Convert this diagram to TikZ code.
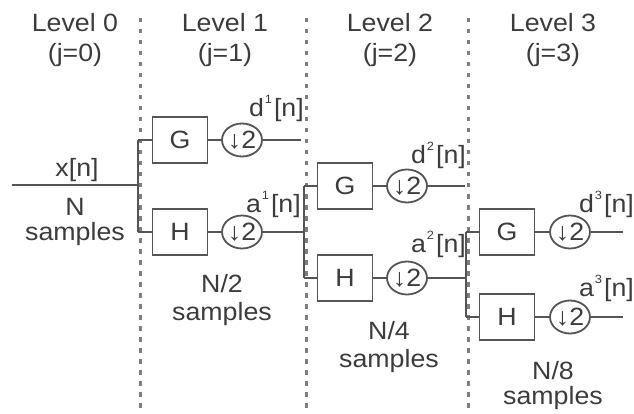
\documentclass[tikz,border=0pt]{standalone}
\usepackage{fontspec}
\setmainfont{Liberation Sans}[FakeStretch=1.07]
\usetikzlibrary{shapes.geometric}
\definecolor{ln}{HTML}{555555}
\definecolor{tx}{HTML}{3C3C3C}
\definecolor{dl}{HTML}{7E7E7E}
\newcommand{\fsz}{\fontsize{25}{27}\selectfont}
\newcommand{\hisup}[1]{\kern1pt\raisebox{13pt}{\fontsize{12}{12}\selectfont #1}\kern2pt}
\tikzset{
  filt/.style={draw=ln, line width=1.8pt, minimum width=55pt, minimum height=46pt, inner sep=0pt, text=tx, font=\fsz},
  dsamp/.style={draw=ln, ellipse, line width=1.8pt, minimum width=39pt, minimum height=33pt, inner sep=0pt, text=tx, font=\fsz},
  wire/.style={draw=ln, line width=1.8pt},
  sepline/.style={draw=dl, line width=3pt, dash pattern=on 4.5pt off 6.5pt},
  lbl/.style={text=tx, font=\fsz, inner sep=0pt, anchor=base},
  lblr/.style={text=tx, font=\fsz, inner sep=0pt, anchor=base east},
}
\begin{document}
\begin{tikzpicture}[x=1pt,y=-1pt]
\useasboundingbox (0,0) rectangle (634,414);
% separators
\coordinate (s1t) at (140,18); \coordinate (s1b) at (140,414);
\coordinate (s2t) at (306,18); \coordinate (s2b) at (306,414);
\coordinate (s3t) at (468,18); \coordinate (s3b) at (468,414);
\draw[sepline] (s1t) -- (s1b);
\draw[sepline] (s2t) -- (s2b);
\draw[sepline] (s3t) -- (s3b);
% headings
\node[lbl] (L0) at (75,32) {Level 0};
\node[lbl] (J0) at (75,62) {(j=0)};
\node[lbl] (L1) at (225,32) {Level 1};
\node[lbl] (J1) at (225,62) {(j=1)};
\node[lbl] (L2) at (390,32) {Level 2};
\node[lbl] (J2) at (390,62) {(j=2)};
\node[lbl] (L3) at (553,32) {Level 3};
\node[lbl] (J3) at (553,62) {(j=3)};
% level 0
\coordinate (xin) at (12,185);
\coordinate (j1) at (138,185);
\node[lbl] (xl) at (77,177) {x[n]};
\node[lbl] (n0) at (75,215) {N};
\node[lbl] (s0) at (75,240) {samples};
% level 1
\coordinate (j1t) at (138,140); \coordinate (j1b) at (138,232);
\node[filt] (G1) at (180,140) {G};
\node[filt] (H1) at (180,232) {H};
\node[dsamp] (D1g) at (242,140) {↓2};
\node[dsamp] (D1h) at (242,232) {↓2};
\coordinate (e1) at (301,140);
\coordinate (j2) at (304,232);
\node[lblr] (d1) at (304,117) {d\hisup{1}[n]};
\node[lblr] (a1) at (301,212) {a\hisup{1}[n]};
\node[lbl] (n1) at (222,292) {N/2};
\node[lbl] (s1) at (222,320) {samples};
% level 2
\coordinate (j2t) at (304,186); \coordinate (j2b) at (304,278);
\node[filt] (G2) at (345,186) {G};
\node[filt] (H2) at (345,278) {H};
\node[dsamp] (D2g) at (407,186) {↓2};
\node[dsamp] (D2h) at (407,278) {↓2};
\coordinate (e2) at (465,186);
\coordinate (j3) at (466,278);
\node[lblr] (d2) at (466,164) {d\hisup{2}[n]};
\node[lblr] (a2) at (466,252) {a\hisup{2}[n]};
\node[lbl] (n2) at (389,339) {N/4};
\node[lbl] (s2) at (389,367) {samples};
% level 3
\coordinate (j3t) at (466,232); \coordinate (j3b) at (466,317);
\node[filt] (G3) at (507,232) {G};
\node[filt] (H3) at (507,317) {H};
\node[dsamp] (D3g) at (570,232) {↓2};
\node[dsamp] (D3h) at (570,317) {↓2};
\coordinate (e3g) at (623,232);
\coordinate (e3h) at (623,317);
\node[lblr] (d3) at (634,212) {d\hisup{3}[n]};
\node[lblr] (a3) at (634,296) {a\hisup{3}[n]};
\node[lbl] (n3) at (553,379) {N/8};
\node[lbl] (s3) at (553,404) {samples};
% wires
\draw[wire] (xin) -- (j1);
\draw[wire] (j1t) -- (j1b);
\draw[wire] (j1t) -- (G1.west);
\draw[wire] (j1b) -- (H1.west);
\draw[wire] (G1.east) -- (D1g.west);
\draw[wire] (H1.east) -- (D1h.west);
\draw[wire] (D1g.east) -- (e1);
\draw[wire] (D1h.east) -- (j2);
\draw[wire] (j2t) -- (j2b);
\draw[wire] (j2t) -- (G2.west);
\draw[wire] (j2b) -- (H2.west);
\draw[wire] (G2.east) -- (D2g.west);
\draw[wire] (H2.east) -- (D2h.west);
\draw[wire] (D2g.east) -- (e2);
\draw[wire] (D2h.east) -- (j3);
\draw[wire] (j3t) -- (j3b);
\draw[wire] (j3t) -- (G3.west);
\draw[wire] (j3b) -- (H3.west);
\draw[wire] (G3.east) -- (D3g.west);
\draw[wire] (H3.east) -- (D3h.west);
\draw[wire] (D3g.east) -- (e3g);
\draw[wire] (D3h.east) -- (e3h);
\end{tikzpicture}
\end{document}
